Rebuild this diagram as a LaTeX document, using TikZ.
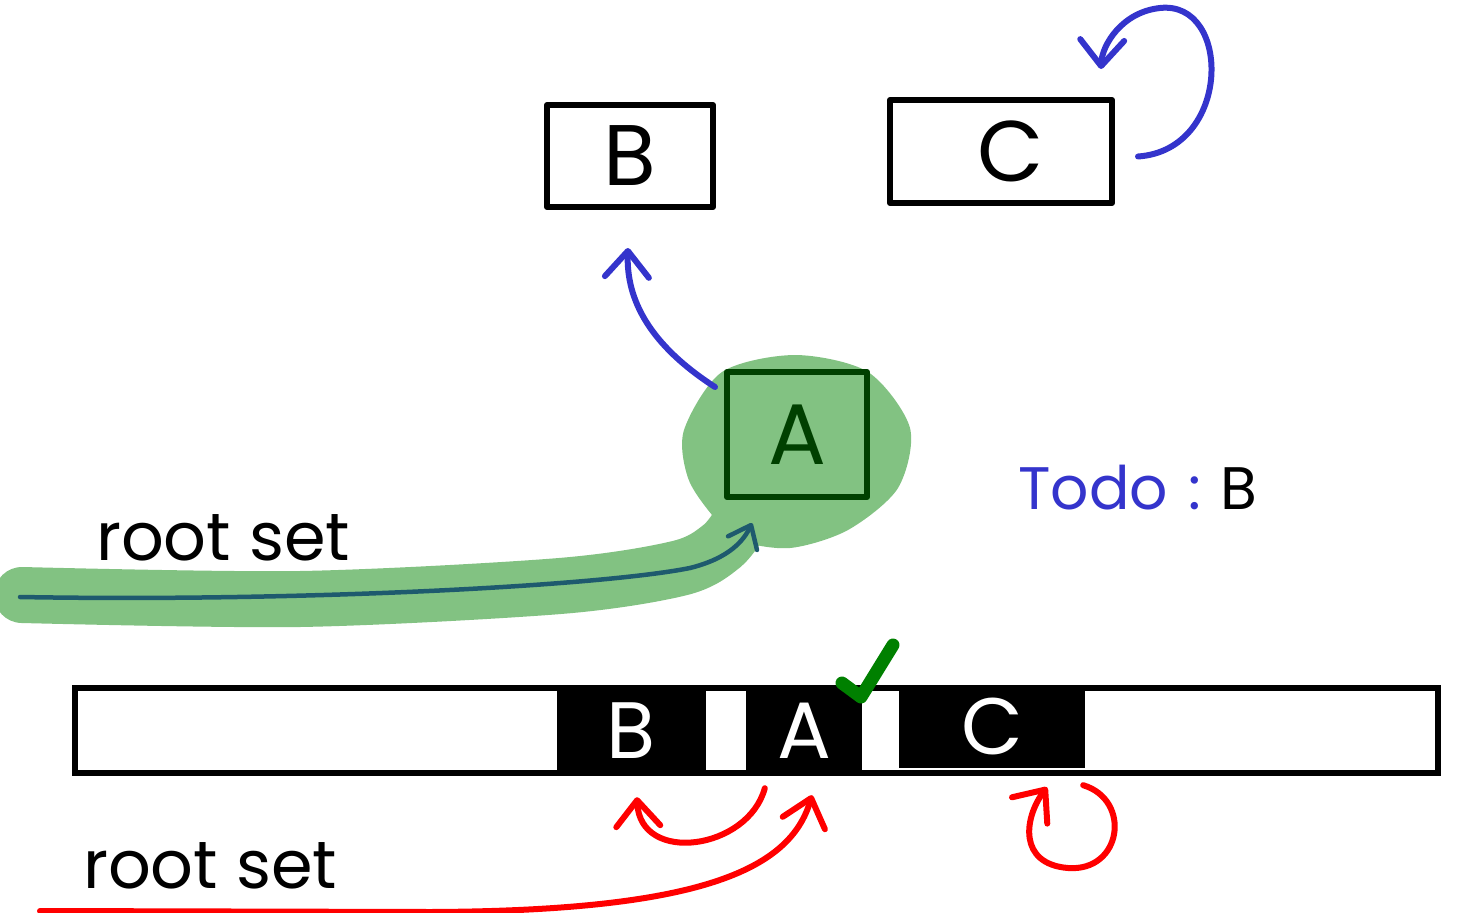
\documentclass[tikz,border=0pt]{standalone}
\usepackage{fontspec}
\setmainfont{Poppins}
\usepackage{tikz}
\usetikzlibrary{positioning}
\usetikzlibrary{arrows.meta,calc}
\definecolor{penblue}{RGB}{52,52,204}
\definecolor{marker}{RGB}{130,194,130}
\definecolor{darkgreen}{RGB}{0,64,0}
\definecolor{rootline}{RGB}{30,90,110}
\definecolor{checkgreen}{RGB}{0,128,0}
\tikzset{line/.style={draw, line width=6pt, line cap=round, -{Straight Barb[length=26pt,width=44pt,round]}}}

\begin{document}
\begin{tikzpicture}[x=1pt,y=-1pt]
\tikzstyle{box} = [rectangle, draw, line width=6pt, line join=round, inner sep=0pt, font=\fontsize{86}{86}\selectfont]
\tikzstyle{cell} = [rectangle, fill=black, text=white, inner sep=0pt, minimum height=85pt, font=\fontsize{80}{80}\selectfont]
\tikzstyle{hand} = [inner sep=0pt, font=\fontsize{67}{67}\selectfont]

\useasboundingbox (0,0) rectangle (1460,913);

% highlight
    \fill[marker] plot[smooth cycle] coordinates {(722,372) (795,355) (868,372) (910,428) (898,488) (848,530) (790,548) (738,540) (712,515) (688,478) (684,430)};
    \draw[marker, line width=56pt, line cap=round] plot[smooth] coordinates {(22,595) (300,599) (560,586) (680,568) (722,546) (742,520)};

% objects
    \node [box, minimum width=166pt, minimum height=102pt] (B) at (630,156) {B};
    \node [box, minimum width=222pt, minimum height=103pt] (C) at (1001,151.5) {\hspace*{20pt}C};
    \node [box, draw=darkgreen, text=darkgreen, minimum width=140pt, minimum height=125pt] (A) at (797,434.5) {A};

% heap
    \node [draw, line width=6pt, minimum width=1363pt, minimum height=85pt, inner sep=0pt] (heap) at (756.5,730.5) {};
    \node [cell, minimum width=149pt] (hB) at (631.5,730.5) {B};
    \node [cell, minimum width=116pt] (hA) at (804,730.5) {A};
    \node [cell, minimum width=186pt, minimum height=83pt] (hC) at (992,726.5) {C};
    \draw [checkgreen, line width=13pt, line cap=round, line join=round] (842,683) -- (861,697) -- (893,645);

% labels
    \node [hand] (root) at (223,538) {root set};
    \node [hand] (rootB) at (210,866) {root set};
    \node [anchor=west, inner sep=0pt, font=\fontsize{60}{60}\selectfont] (todo) at (1018,488) {\textcolor{penblue}{Todo\,\,:}\,\,B};
    \coordinate (rootA) at (20,597);
    \coordinate (rootR) at (40,911);

% arrows
    \path [line, penblue] ([shift={(-9pt,-18pt)}]A.north west) .. controls (650,345) and (626,300) .. ([shift={(-2pt,-38pt)}]B.south);
    \path [line, penblue] ([shift={(23pt,-5pt)}]C.east) .. controls (1232,150) and (1232,0) .. (1160,8) .. controls (1122,12) and (1102,45) .. ([shift={(-14pt,28pt)}]C.north east);
    \path [line, rootline, line width=4.5pt, -{Straight Barb[length=20pt,width=32pt,round]}] (rootA) .. controls (300,602) and (600,586) .. (690,568) .. controls (730,558) and (744,540) .. ([shift={(28pt,-23pt)}]A.south west);
    \path [line, red] ([shift={(19pt,-15pt)}]hA.south west) .. controls (748,850) and (640,865) .. ([shift={(5.5pt,-24pt)}]hB.south);
    \path [line, red] (rootR) -- (430,912) .. controls (700,911) and (790,870) .. ([shift={(8pt,-22pt)}]hA.south);
    \path [line, red] ([shift={(-2pt,-17pt)}]hC.south east) .. controls (1132,800) and (1122,872) .. (1068,868) .. controls (1018,864) and (1024,818) .. ([shift={(55pt,-19pt)}]hC.south);
\end{tikzpicture}
\end{document}
